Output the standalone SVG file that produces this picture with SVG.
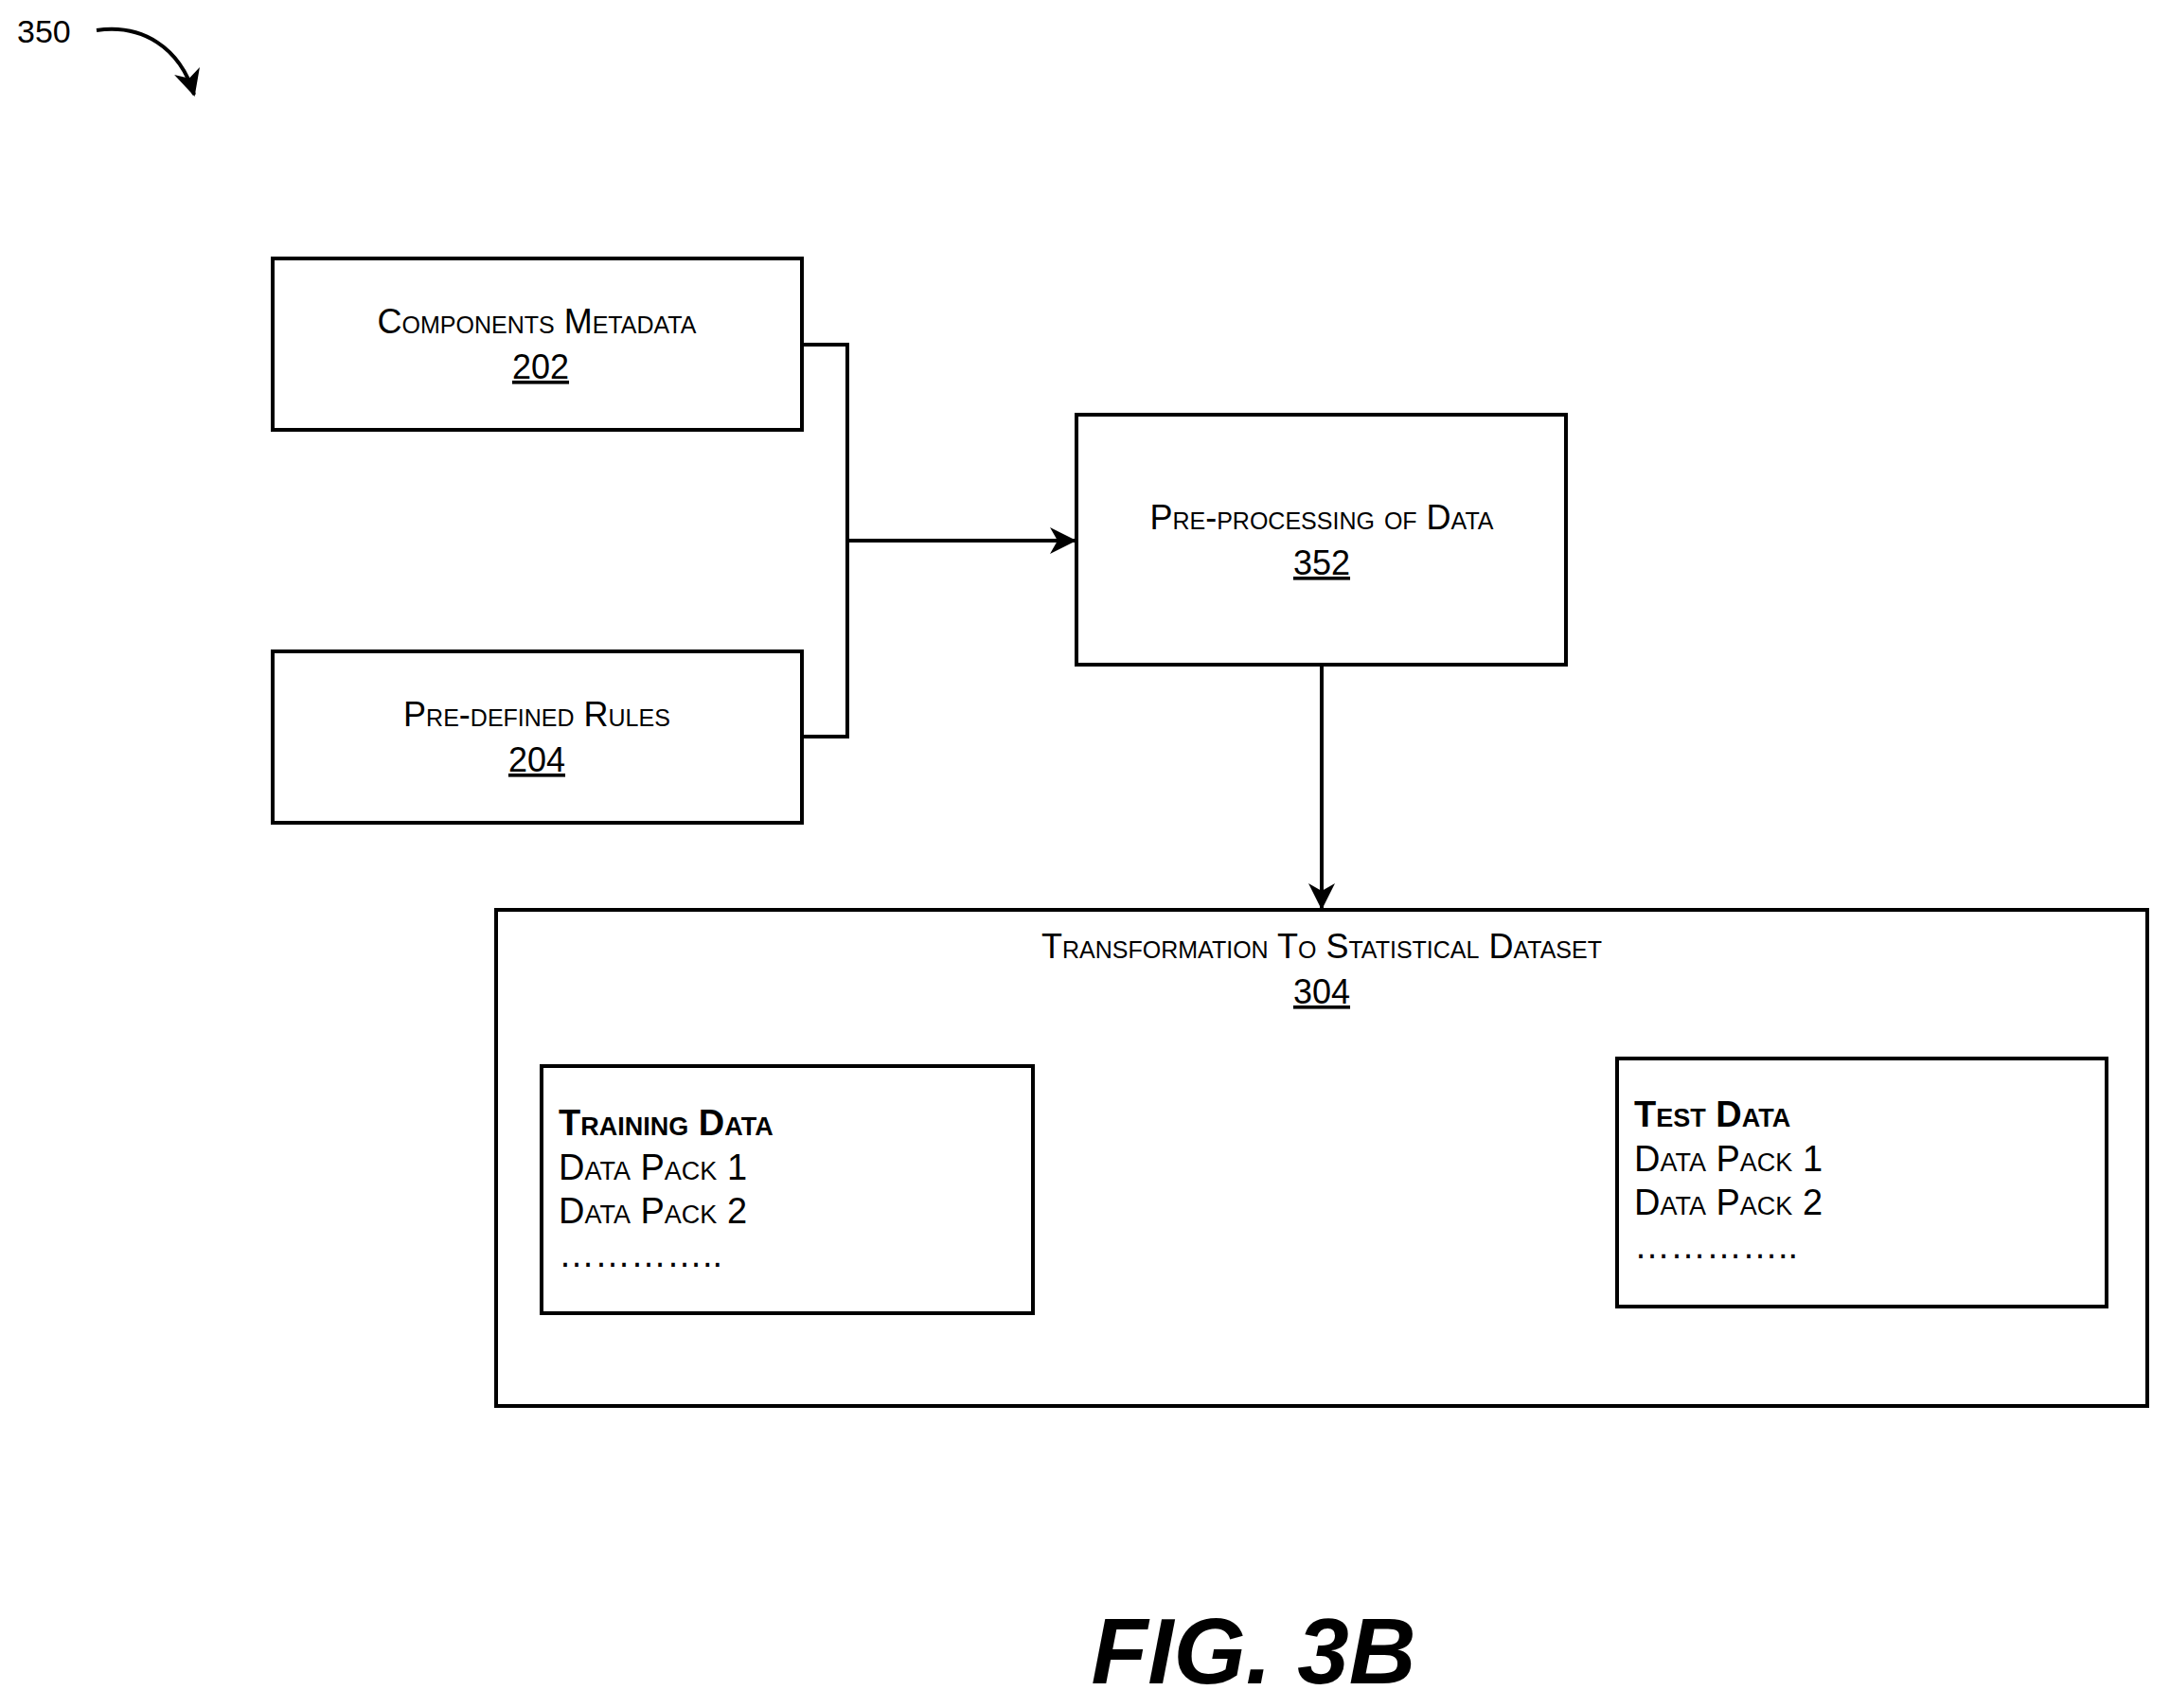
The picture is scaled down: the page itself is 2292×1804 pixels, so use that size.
<svg xmlns="http://www.w3.org/2000/svg" width="2292" height="1804" viewBox="0 0 2292 1804">
<style>
text{font-family:"Liberation Sans",Arial,sans-serif;fill:#000}
.b{fill:#fff;stroke:#000;stroke-width:4}
.t{font-size:36px;font-variant:small-caps;text-anchor:middle}
.n{font-size:36px;text-anchor:middle;text-decoration:underline}
.l{font-size:38px;font-variant:small-caps}
.c{fill:none;stroke:#000;stroke-width:4}
</style>
<defs><marker id="a" markerWidth="10" markerHeight="10" refX="9" refY="5" orient="auto" markerUnits="userSpaceOnUse" viewBox="0 0 10 10"><path d="M0,0 L10,5 L0,10 L3,5 Z" fill="#000"/></marker>
<marker id="ah" markerWidth="28" markerHeight="28" refX="26" refY="14" orient="auto" markerUnits="userSpaceOnUse" viewBox="0 0 28 28"><path d="M0,0 L28,14 L0,28 L8,14 Z" fill="#000"/></marker></defs>
<text x="18" y="45" style="font-size:34px">350</text>
<path class="c" d="M102,32 C150,25 190,50 205,100" marker-end="url(#ah)"/>
<g id="n202"><rect class="b" x="288" y="273" width="559" height="181"/><text class="t" x="567" y="352">Components Metadata</text><text class="n" x="571" y="400">202</text></g>
<g id="n204"><rect class="b" x="288" y="688" width="559" height="181"/><text class="t" x="567" y="767">Pre-defined Rules</text><text class="n" x="567" y="815">204</text></g>
<g id="n352"><rect class="b" x="1137" y="438" width="517" height="264"/><text class="t" x="1396" y="559">Pre-processing of Data</text><text class="n" x="1396" y="607">352</text></g>
<g id="n304"><rect class="b" x="524" y="961" width="1744" height="524"/><text class="t" x="1396" y="1012">Transformation To Statistical Dataset</text><text class="n" x="1396" y="1060">304</text>
<g id="train"><rect class="b" x="572" y="1126" width="519" height="261"/><text class="l" x="590" y="1199" font-weight="bold">Training Data</text><text class="l" x="590" y="1246">Data Pack 1</text><text class="l" x="590" y="1292">Data Pack 2</text><text class="l" x="590" y="1338">…………..</text></g>
<g id="test"><rect class="b" x="1708" y="1118" width="517" height="262"/><text class="l" x="1726" y="1190" font-weight="bold">Test Data</text><text class="l" x="1726" y="1237">Data Pack 1</text><text class="l" x="1726" y="1283">Data Pack 2</text><text class="l" x="1726" y="1329">…………..</text></g></g>
<g id="connectors">
<path class="c" d="M847,364 H895 V778 H847"/>
<path class="c" d="M895,571 H1135" marker-end="url(#ah)"/>
<path class="c" d="M1396,702 V959" marker-end="url(#ah)"/>
</g>
<text x="1324" y="1778" style="font-size:98px;font-weight:bold;font-style:italic;text-anchor:middle">FIG. 3B</text>
</svg>
